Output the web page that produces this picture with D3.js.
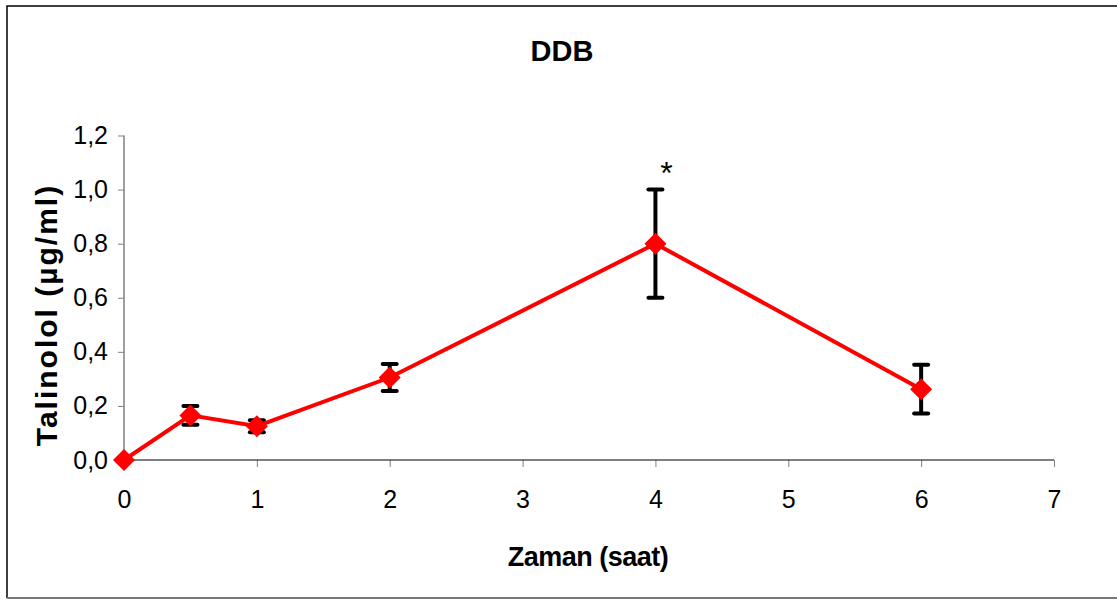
<!DOCTYPE html>
<html>
<head>
<meta charset="utf-8">
<style>
body { margin: 0; background: #fff; font-family: 'Liberation Sans', Arial, sans-serif; }
.axis .domain { display: none; }
</style>
</head>
<body>
<svg width="1117" height="599"></svg>
<script src="https://cdn.jsdelivr.net/npm/d3@7"></script>
<script>
// data
var hours = [0, 0.5, 1, 2, 4, 6];
var means = [0.0, 0.165, 0.125, 0.305, 0.80, 0.262];
var errs  = [0.0, 0.035, 0.022, 0.05, 0.20, 0.09];
var xTicks = [0, 1, 2, 3, 4, 5, 6, 7];
var yTicks = [0, 0.2, 0.4, 0.6, 0.8, 1.0, 1.2];

var svg = d3.select("svg");

// outer frame
svg.append("path")
    .attr("d", "M1117,6 H7 V598")
    .attr("fill", "none")
    .attr("stroke", "#000")
    .attr("stroke-width", 1.5);
svg.append("line")
    .attr("x1", 7).attr("x2", 1117).attr("y1", 598).attr("y2", 598)
    .attr("stroke", "#777").attr("stroke-width", 2);

var x = d3.scaleLinear().domain([0, 7]).range([124, 1054]);
var y = d3.scaleLinear().domain([0, 1.2]).range([460, 135.5]);

var fmt = function(d) { return d3.format(".1f")(d).replace(".", ","); };

// y axis
var gy = svg.append("g")
    .attr("class", "axis")
    .attr("transform", "translate(124,0)")
    .call(d3.axisLeft(y).tickValues(yTicks).tickSize(6).tickFormat(fmt));
gy.selectAll(".tick line").attr("stroke", "#808080");
gy.selectAll("text").attr("font-size", 25).attr("fill", "#000")
    .attr("font-family", "'Liberation Sans', Arial, sans-serif").attr("x", -16);
svg.append("line")
    .attr("x1", 124).attr("x2", 124).attr("y1", y(1.2)).attr("y2", y(0))
    .attr("stroke", "#808080").attr("stroke-width", 1.5);

// x axis
var gx = svg.append("g")
    .attr("class", "axis")
    .attr("transform", "translate(0," + y(0) + ")")
    .call(d3.axisBottom(x).tickValues(xTicks).tickSize(7).tickFormat(d3.format("d")));
gx.selectAll(".tick line").attr("stroke", "#808080");
gx.selectAll("text").attr("font-size", 25).attr("fill", "#000")
    .attr("font-family", "'Liberation Sans', Arial, sans-serif")
    .attr("y", 48).attr("dy", null);
svg.append("line")
    .attr("x1", 124).attr("x2", 1054).attr("y1", y(0)).attr("y2", y(0))
    .attr("stroke", "#000").attr("stroke-width", 1.2);

// titles
svg.append("text")
    .attr("x", 562).attr("y", 61)
    .attr("text-anchor", "middle")
    .attr("font-size", 29).attr("font-weight", "bold")
    .text("DDB");
svg.append("text")
    .attr("x", 588).attr("y", 566)
    .attr("text-anchor", "middle")
    .attr("font-size", 27).attr("font-weight", "bold")
    .attr("letter-spacing", -0.5)
    .text("Zaman (saat)");
svg.append("text")
    .attr("transform", "translate(57,315) rotate(-90)")
    .attr("text-anchor", "middle")
    .attr("font-size", 30).attr("font-weight", "bold")
    .attr("letter-spacing", 2)
    .text("Talinolol (µg/ml)");

var data = hours.map(function(h, i) { return {h: h, m: means[i], e: errs[i]}; });

// error bars
var eb = svg.append("g").attr("stroke", "#000").attr("stroke-width", 4)
  .selectAll("g")
  .data(data.filter(function(d) { return d.e > 0; }))
  .enter().append("g");
eb.append("line")
    .attr("x1", function(d) { return x(d.h); })
    .attr("x2", function(d) { return x(d.h); })
    .attr("y1", function(d) { return y(d.m + d.e); })
    .attr("y2", function(d) { return y(d.m - d.e); });
eb.append("line")
    .attr("stroke-linecap", "round")
    .attr("x1", function(d) { return x(d.h) - 7; })
    .attr("x2", function(d) { return x(d.h) + 7; })
    .attr("y1", function(d) { return y(d.m + d.e); })
    .attr("y2", function(d) { return y(d.m + d.e); });
eb.append("line")
    .attr("stroke-linecap", "round")
    .attr("x1", function(d) { return x(d.h) - 7; })
    .attr("x2", function(d) { return x(d.h) + 7; })
    .attr("y1", function(d) { return y(d.m - d.e); })
    .attr("y2", function(d) { return y(d.m - d.e); });

// line
svg.append("path")
    .datum(data)
    .attr("fill", "none")
    .attr("stroke", "#ff0000")
    .attr("stroke-width", 4)
    .attr("d", d3.line().x(function(d) { return x(d.h); }).y(function(d) { return y(d.m); }));

// diamond markers
svg.append("g").selectAll("path")
  .data(data)
  .enter().append("path")
    .attr("fill", "#ff0000")
    .attr("d", function(d) {
      var cx = x(d.h), cy = y(d.m), r = 11;
      return "M" + cx + "," + (cy - r) + "L" + (cx + r) + "," + cy + "L" + cx + "," + (cy + r) + "L" + (cx - r) + "," + cy + "Z";
    });

// significance mark
svg.append("text")
    .attr("x", x(4) + 11).attr("y", y(1.0) - 6)
    .attr("text-anchor", "middle")
    .attr("font-size", 32)
    .text("*");
</script>
</body>
</html>
